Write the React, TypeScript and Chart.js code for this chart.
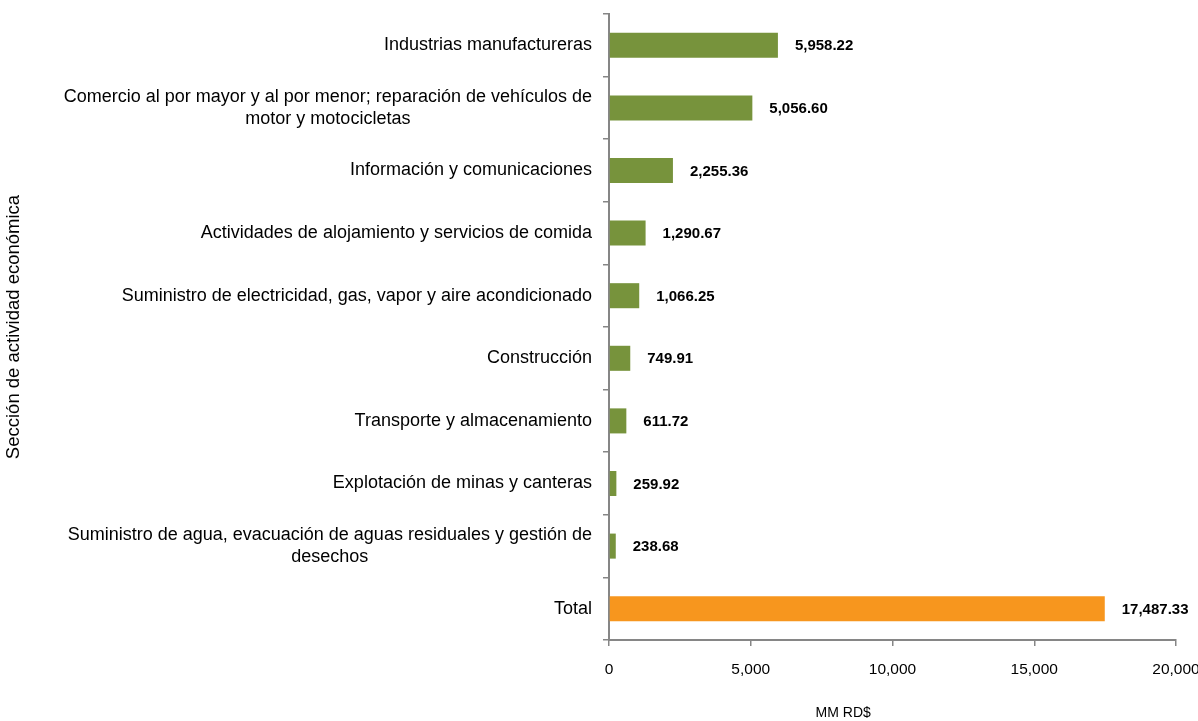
import React, { useEffect, useRef } from "react";
import { Chart, registerables } from "chart.js";

Chart.register(...registerables);

const categories: string[][] = [
  ["Industrias manufactureras"],
  ["Comercio al por mayor y al por menor; reparación de vehículos de", "motor y motocicletas"],
  ["Información y comunicaciones"],
  ["Actividades de alojamiento y servicios de comida"],
  ["Suministro de electricidad, gas, vapor y aire acondicionado"],
  ["Construcción"],
  ["Transporte y almacenamiento"],
  ["Explotación de minas y canteras"],
  ["Suministro de agua, evacuación de aguas residuales y gestión de", "desechos"],
  ["Total"],
];

const values: number[] = [5958.22, 5056.6, 2255.36, 1290.67, 1066.25, 749.91, 611.72, 259.92, 238.68, 17487.33];

const isTotal: boolean[] = [false, false, false, false, false, false, false, false, false, true];

const xMin = 0;
const xMax = 20000;
const xStep = 5000;
const xTitle = "MM RD$";
const yTitle = "Sección de actividad económica";

const GREEN = "#77933C";
const ORANGE = "#F7961E";
const AXIS = "#868686";
const FONT = "'Liberation Sans', Arial, sans-serif";

const yLabelPlugin = {
  id: "yLabels",
  afterDraw(chart: any) {
    const ctx = chart.ctx;
    const ys = chart.scales.y;
    const right = chart.chartArea.left - 17;
    const lh = 21.5;
    ctx.save();
    ctx.font = `18px ${FONT}`;
    ctx.fillStyle = "#000";
    ctx.textAlign = "center";
    ctx.textBaseline = "middle";
    categories.forEach((lines, i) => {
      const w = Math.max(...lines.map((l) => ctx.measureText(l).width));
      const cx = right - w / 2;
      const yc = ys.getPixelForValue(i);
      const y0 = yc - ((lines.length - 1) * lh) / 2;
      lines.forEach((l, k) => ctx.fillText(l, cx, y0 + k * lh));
    });
    // x axis title (sits left of the axis centre in the original)
    const xs = chart.scales.x;
    ctx.font = `14px ${FONT}`;
    ctx.fillText(xTitle, xs.left + (xs.right - xs.left) * 0.413, 713);
    ctx.restore();
  },
};

const valueLabelPlugin = {
  id: "valueLabels",
  afterDatasetsDraw(chart: any) {
    const ctx = chart.ctx;
    const meta = chart.getDatasetMeta(0);
    ctx.save();
    ctx.font = `bold 15px ${FONT}`;
    ctx.fillStyle = "#000";
    ctx.textAlign = "left";
    ctx.textBaseline = "middle";
    meta.data.forEach((el: any, i: number) => {
      const txt = values[i].toLocaleString("en-US", { minimumFractionDigits: 2, maximumFractionDigits: 2 });
      ctx.fillText(txt, el.x + 17, el.y + 1);
    });
    ctx.restore();
  },
};

export default function App() {
  const ref = useRef<HTMLCanvasElement | null>(null);
  useEffect(() => {
    if (!ref.current) return;
    Chart.defaults.font.family = FONT;
    const chart = new Chart(ref.current, {
      type: "bar",
      data: {
        labels: categories.map((c) => c.join(" ")),
        datasets: [
          {
            data: values,
            backgroundColor: isTotal.map((t) => (t ? ORANGE : GREEN)),
            categoryPercentage: 1,
            barPercentage: 0.4,
          },
        ],
      },
      options: {
        indexAxis: "y",
        animation: false,
        responsive: true,
        maintainAspectRatio: false,
        layout: { padding: { top: 14, right: 22, left: 0, bottom: 0 } },
        plugins: { legend: { display: false }, tooltip: { enabled: false } },
        scales: {
          y: {
            type: "category",
            offset: true,
            grid: { offset: true, drawOnChartArea: false, drawTicks: true, tickLength: 6, color: AXIS, lineWidth: 1.5 },
            border: { color: AXIS, width: 2 },
            ticks: { display: false },
            title: { display: true, text: yTitle, color: "#000", font: { size: 18.5 }, padding: { top: 3, bottom: 0 } },
            afterFit: (s: any) => {
              s.width = 609;
            },
          },
          x: {
            type: "linear",
            min: xMin,
            max: xMax,
            ticks: { stepSize: xStep, color: "#000", font: { size: 15.5 }, padding: 14 },
            grid: { drawOnChartArea: false, drawTicks: true, tickLength: 6, color: AXIS, lineWidth: 1.5 },
            border: { color: AXIS, width: 2 },
            title: { display: false },
            afterFit: (s: any) => {
              s.height = 81;
              s.paddingLeft = 0;
              s.paddingRight = 0;
            },
          },
        },
      },
      plugins: [yLabelPlugin, valueLabelPlugin],
    });
    return () => chart.destroy();
  }, []);
  return (
    <div style={{ position: "absolute", left: 0, top: 0, width: 1198, height: 721, background: "#fff" }}>
      <canvas ref={ref} />
    </div>
  );
}
